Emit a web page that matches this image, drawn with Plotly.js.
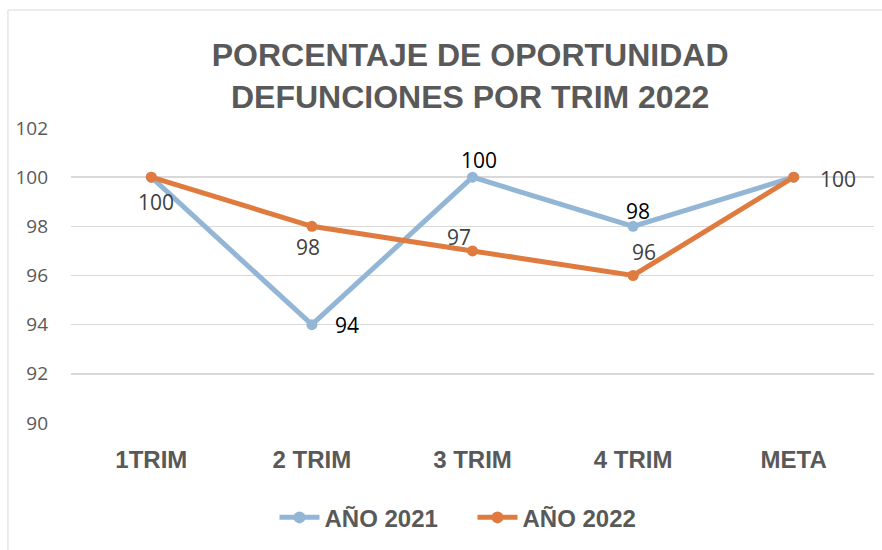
<!DOCTYPE html>
<html><head><meta charset="utf-8">
<script src="https://cdn.plot.ly/plotly-3.0.1.min.js"></script>
<style>html,body{margin:0;padding:0;background:#fff;}#chart{width:882px;height:550px;}</style>
</head><body><div id="chart"></div>
<script>
const categories = ["1TRIM", "2 TRIM", "3 TRIM", "4 TRIM", "META"];
const values2021 = [100, 94, 100, 98, 100];
const values2022 = [100, 98, 97, 96, 100];
const labels2021 = ["", "94", "100", "98", ""];
const labels2022 = ["100", "98", "97", "96", "100"];
const seriesNames = ["AÑO 2021", "AÑO 2022"];

// label offsets (pixels) - styling only
const shift2021 = [[0, 0], [35, 0], [6, 17], [5, 15], [0, 0]];
const shift2022 = [[5, -25], [-4, -21], [-14, 14], [11, 24], [44, -2]];

const colors = ["#94b6d6", "#e07b3f"];

function mkTrace(vals, name, color) {
  return {
    x: categories, y: vals, name: name, type: "scatter", mode: "lines+markers",
    line: {color: color, width: 5}, marker: {color: color, size: 11}, cliponaxis: false
  };
}
const traces = [mkTrace(values2021, seriesNames[0], colors[0]), mkTrace(values2022, seriesNames[1], colors[1])];

const annotations = [];
function addLabels(vals, labels, shifts, color) {
  labels.forEach((t, i) => {
    if (!t) return;
    annotations.push({
      x: categories[i], y: vals[i], xref: "x", yref: "y", text: t, showarrow: false,
      xshift: shifts[i][0], yshift: shifts[i][1],
      font: {family: "Open Sans, sans-serif", size: 21, color: color}
    });
  });
}
addLabels(values2021, labels2021, shift2021, "#000000");
addLabels(values2022, labels2022, shift2022, "#404040");

const layout = {
  width: 882, height: 550,
  margin: {l: 71, r: 8, t: 128, b: 127},
  paper_bgcolor: "#ffffff", plot_bgcolor: "#ffffff",
  title: {
    text: "PORCENTAJE DE OPORTUNIDAD<br>DEFUNCIONES POR TRIM 2022",
    font: {family: "Liberation Sans, Arial, sans-serif", size: 32, color: "#595959", weight: "bold"},
    x: 0.533, xanchor: "center", yref: "container", y: 0.88, yanchor: "middle"
  },
  xaxis: {
    type: "category", range: [-0.5, 4.5], showgrid: false, zeroline: false, showline: false, ticks: "",
    tickfont: {family: "Liberation Sans, Arial, sans-serif", size: 24, color: "#595959", weight: "bold"},
    ticklabelstandoff: 20
  },
  yaxis: {
    range: [90, 102], dtick: 2, tick0: 90, showgrid: true, gridcolor: "#d9d9d9", gridwidth: 1.5,
    zeroline: false, showline: false, ticks: "",
    tickfont: {family: "Open Sans, sans-serif", size: 19, color: "#595959"},
    ticklabelstandoff: 22
  },
  annotations: annotations,
  showlegend: true,
  legend: {
    orientation: "h", x: 0.5, xanchor: "center", y: -0.245, yanchor: "top",
    font: {family: "Liberation Sans, Arial, sans-serif", size: 24, color: "#595959", weight: "bold"},
    itemwidth: 40, itemsizing: "constant", entrywidth: 143, entrywidthmode: "pixels"
  },
  shapes: [{
    type: "rect", xref: "paper", yref: "paper",
    x0: -0.0785, x1: 1.05, y0: -0.6, y1: 1.4,
    line: {color: "#d9d9d9", width: 1}, fillcolor: "rgba(0,0,0,0)", layer: "below"
  }]
};

Plotly.newPlot("chart", traces, layout, {displayModeBar: false, staticPlot: true});
</script></body></html>
